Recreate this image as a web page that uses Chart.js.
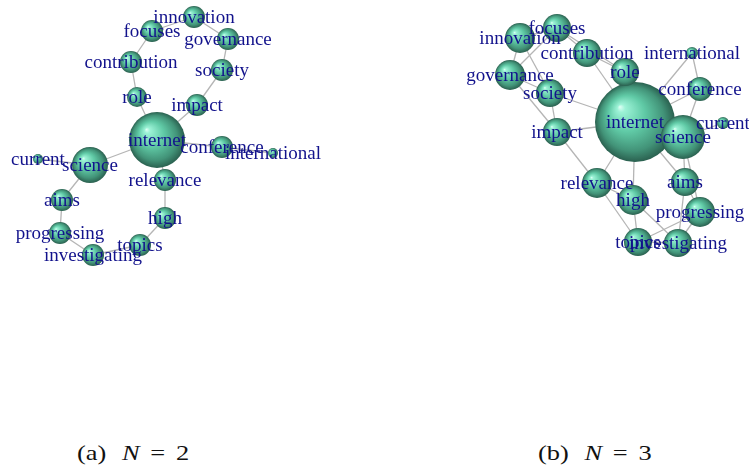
<!DOCTYPE html>
<html lang="en">
<head>
    <meta charset="UTF-8">
    <script src="https://cdn.jsdelivr.net/npm/chart.js"></script>
    <title>Word graphs</title>
    <style>
        body { margin: 0; background: #ffffff; width: 749px; height: 466px; position: relative; overflow: hidden; }
        .panel { position: absolute; top: 0; }
        .caption { position: absolute; top: 441px; font-family: "Liberation Serif", serif; font-size: 22px; line-height: 24px;
            color: #111; white-space: nowrap; transform: scaleX(1.2); transform-origin: left top; }
        .caption span { display: inline-block; }
        .caption .n { font-style: italic; margin-left: 13px; }
        .caption .eq { margin-left: 9px; }
        .caption .v { margin-left: 9px; }
    </style>
</head>
<body>

<div class="panel" style="left:0px"><canvas id="graphA" width="375" height="280"></canvas></div>
<div class="panel" style="left:375px"><canvas id="graphB" width="374" height="280"></canvas></div>

<div class="caption" style="left:77px"><span>(a)</span><span class="n">N</span><span class="eq">=</span><span class="v">2</span></div>
<div class="caption" style="left:538px"><span>(b)</span><span class="n">N</span><span class="eq">=</span><span class="v">3</span></div>

<script>

    // words (nodes), same order in both graphs
    const nodeNames = ['internet', 'science', 'current', 'aims', 'progressing', 'investigating', 'topics', 'high',
        'relevance', 'conference', 'international', 'impact', 'society', 'governance', 'innovation', 'focuses',
        'contribution', 'role'];

    // (a) N = 2 layout
    const nodeXA = [0, -0.67, -1.19, -0.95, -0.97, -0.64, -0.17, 0.08, 0.08, 0.65, 1.16, 0.40, 0.65, 0.71, 0.37, -0.05, -0.26, -0.20];
    const nodeYA = [0, -0.25, -0.19, -0.60, -0.93, -1.15, -1.05, -0.78, -0.40, -0.07, -0.13, 0.35, 0.70, 1.01, 1.23, 1.09, 0.78, 0.43];
    const sizeA = [28, 18, 5, 11, 11, 11, 11, 11, 11, 11, 5, 11, 11, 11, 11, 11, 11, 10];
    const edgesA = [
        ['internet', 'science'], ['science', 'current'], ['science', 'aims'], ['aims', 'progressing'],
        ['progressing', 'investigating'], ['investigating', 'topics'], ['topics', 'high'], ['high', 'relevance'],
        ['relevance', 'internet'], ['internet', 'conference'], ['conference', 'international'], ['internet', 'impact'],
        ['impact', 'society'], ['society', 'governance'], ['governance', 'innovation'], ['innovation', 'focuses'],
        ['focuses', 'contribution'], ['contribution', 'role'], ['role', 'internet']
    ];

    // (b) N = 3 layout
    const nodeXB = [0, 0.48, 0.88, 0.50, 0.65, 0.43, 0.03, -0.02, -0.38, 0.65, 0.57, -0.78, -0.85, -1.25, -1.15, -0.78, -0.48, -0.10];
    const nodeYB = [0, -0.15, -0.01, -0.60, -0.90, -1.21, -1.20, -0.78, -0.61, 0.33, 0.69, -0.10, 0.29, 0.47, 0.84, 0.94, 0.69, 0.50];
    const sizeB = [40, 22, 6, 14, 15, 14, 14, 15, 15, 12, 6, 14, 14, 15, 15, 14, 14, 14];
    const edgesB = [
        ['innovation', 'focuses'], ['innovation', 'governance'], ['focuses', 'governance'], ['innovation', 'society'],
        ['focuses', 'contribution'], ['focuses', 'role'], ['contribution', 'role'], ['contribution', 'internet'],
        ['role', 'internet'], ['governance', 'society'], ['governance', 'impact'], ['society', 'impact'],
        ['society', 'internet'], ['impact', 'internet'], ['impact', 'relevance'], ['relevance', 'internet'],
        ['relevance', 'high'], ['relevance', 'topics'], ['high', 'internet'], ['high', 'topics'],
        ['high', 'investigating'], ['topics', 'investigating'], ['topics', 'progressing'],
        ['investigating', 'progressing'], ['investigating', 'aims'], ['aims', 'progressing'], ['aims', 'science'],
        ['aims', 'internet'], ['progressing', 'science'], ['science', 'internet'], ['science', 'current'],
        ['science', 'conference'], ['conference', 'internet'], ['conference', 'international'],
        ['international', 'internet']
    ];

    const sphereCache = {};

    function sphere(r) {
        if (sphereCache[r]) return sphereCache[r];
        const c = document.createElement('canvas');
        const s = Math.ceil(r * 2) + 2;
        c.width = s;
        c.height = s;
        const g = c.getContext('2d');
        const m = s / 2;
        const grad = g.createRadialGradient(m - r * 0.38, m - r * 0.38, 0, m, m, r);
        grad.addColorStop(0, '#e2fff6');
        grad.addColorStop(0.1, '#9cf2d6');
        grad.addColorStop(0.45, '#60caa6');
        grad.addColorStop(0.8, '#429378');
        grad.addColorStop(1, '#2a604f');
        g.fillStyle = grad;
        g.beginPath();
        g.arc(m, m, r, 0, Math.PI * 2);
        g.fill();
        sphereCache[r] = c;
        return c;
    }

    const wordLabels = {
        id: 'wordLabels',
        afterDatasetsDraw: (chart) => {
            const {ctx} = chart;
            const meta = chart.getDatasetMeta(0);
            ctx.save();
            ctx.font = '19px "Liberation Serif"';
            ctx.fillStyle = '#12128c';
            ctx.textAlign = 'center';
            ctx.textBaseline = 'middle';
            meta.data.forEach((pt, i) => {
                ctx.fillText(nodeNames[i], pt.x, pt.y + 1);
            });
            ctx.restore();
        }
    };

    function makeGraph(id, xs, ys, sizes, edges, xMin, xMax, yMin, yMax) {
        const nodes = nodeNames.map((n, i) => ({x: xs[i], y: ys[i]}));
        const datasets = [{
            data: nodes,
            order: 0,
            pointRadius: ctx => sizes[ctx.dataIndex],
            pointStyle: ctx => sphere(sizes[ctx.dataIndex]),
            showLine: false
        }];
        edges.forEach(e => {
            const a = nodeNames.indexOf(e[0]);
            const b = nodeNames.indexOf(e[1]);
            datasets.push({
                data: [nodes[a], nodes[b]],
                order: 1,
                showLine: true,
                pointRadius: 0,
                borderColor: '#b5b5b5',
                borderWidth: 1.3
            });
        });

        return new Chart(document.getElementById(id), {
            type: 'scatter',
            data: {datasets: datasets},
            options: {
                responsive: false,
                animation: false,
                events: [],
                devicePixelRatio: 1,
                layout: {padding: 0, autoPadding: false},
                plugins: {
                    legend: {display: false},
                    tooltip: {enabled: false}
                },
                scales: {
                    x: {type: 'linear', min: xMin, max: xMax, display: false},
                    y: {type: 'linear', min: yMin, max: yMax, display: false}
                }
            },
            plugins: [wordLabels]
        });
    }

    makeGraph('graphA', nodeXA, nodeYA, sizeA, edgesA, -1.57, 2.18, -1.40, 1.40);
    makeGraph('graphB', nodeXB, nodeYB, sizeB, edgesB, -2.60, 1.14, -1.58, 1.22);

</script>

</body>
</html>
